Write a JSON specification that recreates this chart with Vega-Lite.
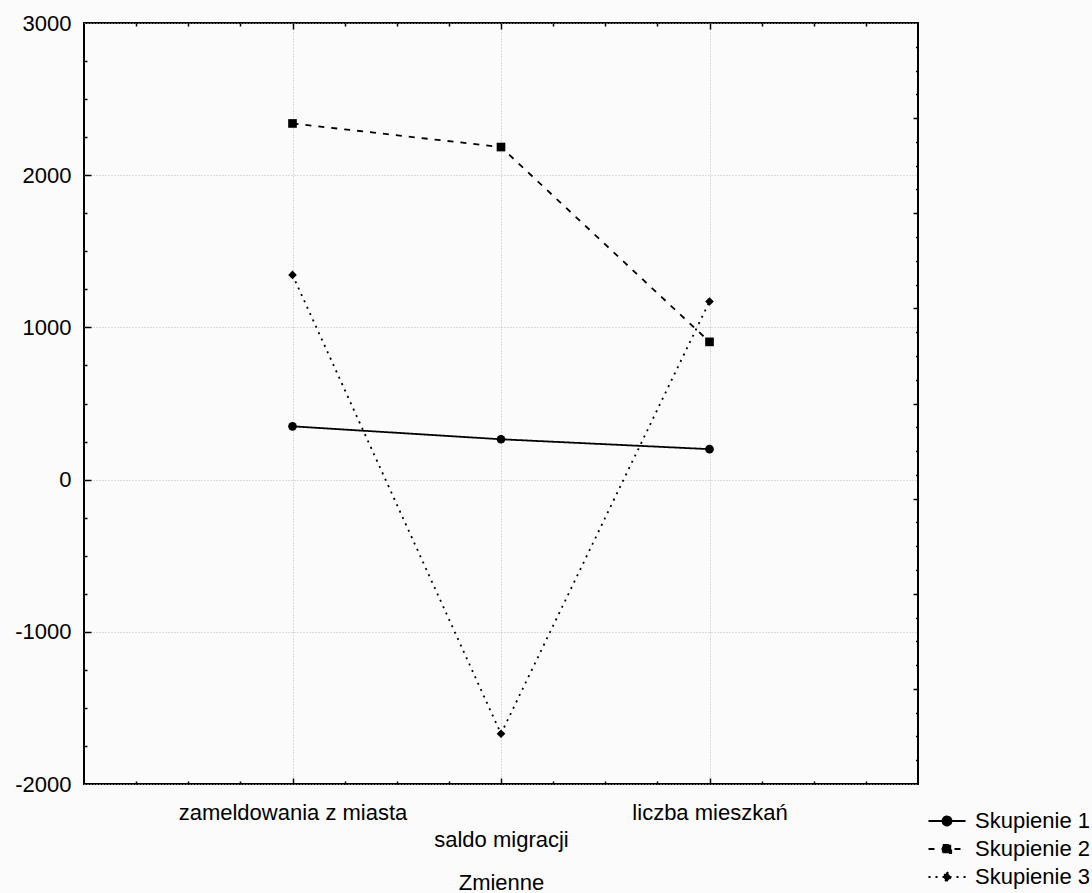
{
  "$schema": "https://vega.github.io/schema/vega-lite/v6.json",
  "width": 834,
  "height": 761,
  "autosize": {"type": "none"},
  "padding": {"left": 84, "top": 23, "right": 174, "bottom": 109},
  "background": "#fbfbfb",
  "config": {
    "font": "Liberation Sans",
    "view": {"stroke": "black", "strokeWidth": 2},
    "axis": {"labelFontSize": 22, "labelColor": "black", "titleFontSize": 22, "titleFontWeight": "normal", "titleColor": "black", "tickColor": "black", "domain": false, "labelFont": "Liberation Sans", "titleFont": "Liberation Sans", "labelLimit": 0}
  },
  "datasets": {
    "main": [
      {"zmienna": "zameldowania z miasta", "skupienie": "Skupienie 1", "wartosc": 350},
      {"zmienna": "saldo migracji", "skupienie": "Skupienie 1", "wartosc": 265},
      {"zmienna": "liczba mieszkań", "skupienie": "Skupienie 1", "wartosc": 200},
      {"zmienna": "zameldowania z miasta", "skupienie": "Skupienie 2", "wartosc": 2340},
      {"zmienna": "saldo migracji", "skupienie": "Skupienie 2", "wartosc": 2185},
      {"zmienna": "liczba mieszkań", "skupienie": "Skupienie 2", "wartosc": 905},
      {"zmienna": "zameldowania z miasta", "skupienie": "Skupienie 3", "wartosc": 1345},
      {"zmienna": "saldo migracji", "skupienie": "Skupienie 3", "wartosc": -1670},
      {"zmienna": "liczba mieszkań", "skupienie": "Skupienie 3", "wartosc": 1170}
    ]
  },
  "data": {"name": "main"},
  "resolve": {
    "scale": {"x": "independent", "y": "independent"},
    "axis": {"x": "independent", "y": "independent"}
  },
  "layer": [
    {
      "mark": {"type": "line", "color": "black", "strokeWidth": 1.8},
      "encoding": {
        "x": {
          "field": "zmienna", "type": "nominal",
          "sort": ["zameldowania z miasta", "saldo migracji", "liczba mieszkań"],
          "scale": {"type": "point", "padding": 1},
          "axis": {
            "orient": "bottom", "title": "Zmienne", "ticks": false, "grid": true,
            "gridColor": "#bdbdbd", "gridDash": [1, 2], "gridWidth": 1,
            "labelAngle": 0, "labelPadding": 18, "labelLineHeight": 27, "labelLimit": 0,
            "labelExpr": "datum.value == 'saldo migracji' ? ['', datum.value] : datum.value",
            "titleY": 105, "titleBaseline": "alphabetic"
          }
        },
        "y": {
          "field": "wartosc", "type": "quantitative",
          "scale": {"domain": [-2000, 3000], "nice": false, "zero": false},
          "axis": {
            "orient": "left", "title": null, "ticks": false,
            "values": [-2000, -1000, 0, 1000, 2000, 3000],
            "labelExpr": "'' + datum.value",
            "labelPadding": 13,
            "grid": true, "gridColor": "#bdbdbd", "gridDash": [1, 2], "gridWidth": 1
          }
        },
        "strokeDash": {
          "field": "skupienie", "type": "nominal",
          "scale": {"domain": ["Skupienie 1", "Skupienie 2", "Skupienie 3"], "range": [[1, 0], [6, 7], [2, 5]]},
          "legend": {
            "orient": "none", "legendX": 852, "legendY": 787, "title": null,
            "labelFontSize": 22, "labelColor": "black", "labelFont": "Liberation Sans",
            "symbolSize": 400, "symbolStrokeWidth": 1.8, "symbolStrokeColor": "black",
            "symbolFillColor": "black", "labelOffset": 17, "rowPadding": 6, "padding": 0,
            "symbolType": "M-1.85,0H1.85",
            "encode": {
              "symbols": {
                "update": {
                  "shape": {"signal": "datum.value === 'Skupienie 1' ? 'M-1.85,0H1.85M-0.45,0A0.45,0.45,0,1,0,0.45,0A0.45,0.45,0,1,0,-0.45,0Z' : datum.value === 'Skupienie 2' ? 'M-1.85,0H1.85M-0.42,-0.42H0.42V0.42H-0.42Z' : 'M-1.85,0H1.85M0,-0.5L0.4,0L0,0.5L-0.4,0Z'"},
                  "size": {"value": 400},
                  "fill": {"value": "black"},
                  "stroke": {"value": "black"},
                  "strokeWidth": {"value": 1.8},
                  "opacity": {"value": 1}
                }
              }
            }
          }
        }
      }
    },
    {
      "transform": [{"filter": "datum.skupienie == 'Skupienie 1'"}],
      "mark": {"type": "point", "filled": true, "color": "black", "size": 75, "opacity": 1, "shape": "circle"},
      "encoding": {
        "x": {
          "field": "zmienna", "type": "nominal",
          "sort": ["zameldowania z miasta", "saldo migracji", "liczba mieszkań"],
          "scale": {"type": "point", "padding": 1}, "axis": null
        },
        "y": {
          "field": "wartosc", "type": "quantitative",
          "scale": {"domain": [-2000, 3000], "nice": false, "zero": false}, "axis": null
        }
      }
    },
    {
      "transform": [{"filter": "datum.skupienie == 'Skupienie 2'"}],
      "mark": {"type": "point", "filled": true, "color": "black", "size": 75, "opacity": 1, "shape": "square"},
      "encoding": {
        "x": {
          "field": "zmienna", "type": "nominal",
          "sort": ["zameldowania z miasta", "saldo migracji", "liczba mieszkań"],
          "scale": {"type": "point", "padding": 1}, "axis": null
        },
        "y": {
          "field": "wartosc", "type": "quantitative",
          "scale": {"domain": [-2000, 3000], "nice": false, "zero": false}, "axis": null
        }
      }
    },
    {
      "transform": [{"filter": "datum.skupienie == 'Skupienie 3'"}],
      "mark": {"type": "point", "filled": true, "color": "black", "size": 75, "opacity": 1, "shape": "diamond"},
      "encoding": {
        "x": {
          "field": "zmienna", "type": "nominal",
          "sort": ["zameldowania z miasta", "saldo migracji", "liczba mieszkań"],
          "scale": {"type": "point", "padding": 1}, "axis": null
        },
        "y": {
          "field": "wartosc", "type": "quantitative",
          "scale": {"domain": [-2000, 3000], "nice": false, "zero": false}, "axis": null
        }
      }
    },
    {
      "mark": {"type": "rule", "opacity": 0},
      "encoding": {
        "y": {
          "datum": 0, "type": "quantitative",
          "scale": {"domain": [-2000, 3000], "nice": false, "zero": false},
          "axis": {
            "orient": "left", "title": null, "labels": false, "grid": false,
            "values": [-1750, -1500, -1250, -1000, -750, -500, -250, 0, 250, 500, 750, 1000, 1250, 1500, 1750, 2000, 2250, 2500, 2750],
            "tickWidth": 1.5,
            "tickSize": {"condition": {"test": "datum.value % 1000 == 0", "value": -7}, "value": -3}
          }
        }
      }
    },
    {
      "mark": {"type": "rule", "opacity": 0},
      "encoding": {
        "y": {
          "datum": 0, "type": "quantitative",
          "scale": {"domain": [0, 32], "nice": false, "zero": false},
          "axis": {
            "orient": "right", "title": null, "labels": false, "grid": false,
            "values": [1, 2, 3, 4, 5, 6, 7, 8, 9, 10, 11, 12, 13, 14, 15, 16, 17, 18, 19, 20, 21, 22, 23, 24, 25, 26, 27, 28, 29, 30, 31],
            "tickWidth": 1.5,
            "tickSize": {"condition": {"test": "datum.value % 4 == 0", "value": -5}, "value": -2.5}
          }
        }
      }
    },
    {
      "mark": {"type": "rule", "opacity": 0},
      "encoding": {
        "x": {
          "datum": 0, "type": "quantitative",
          "scale": {"domain": [0, 16], "nice": false, "zero": false},
          "axis": {
            "orient": "top", "title": null, "labels": false, "grid": false,
            "values": [1, 2, 3, 4, 5, 6, 7, 8, 9, 10, 11, 12, 13, 14, 15],
            "tickWidth": 1.5,
            "tickSize": {"condition": {"test": "datum.value % 4 == 0", "value": -6}, "value": -3}
          }
        }
      }
    },
    {
      "mark": {"type": "rule", "opacity": 0},
      "encoding": {
        "x": {
          "datum": 0, "type": "quantitative",
          "scale": {"domain": [0, 16], "nice": false, "zero": false},
          "axis": {
            "orient": "bottom", "title": null, "labels": false, "grid": false,
            "values": [1, 2, 3, 4, 5, 6, 7, 8, 9, 10, 11, 12, 13, 14, 15],
            "tickWidth": 1.5,
            "tickSize": {"condition": {"test": "datum.value % 4 == 0", "value": -6}, "value": -3}
          }
        }
      }
    }
  ]
}
